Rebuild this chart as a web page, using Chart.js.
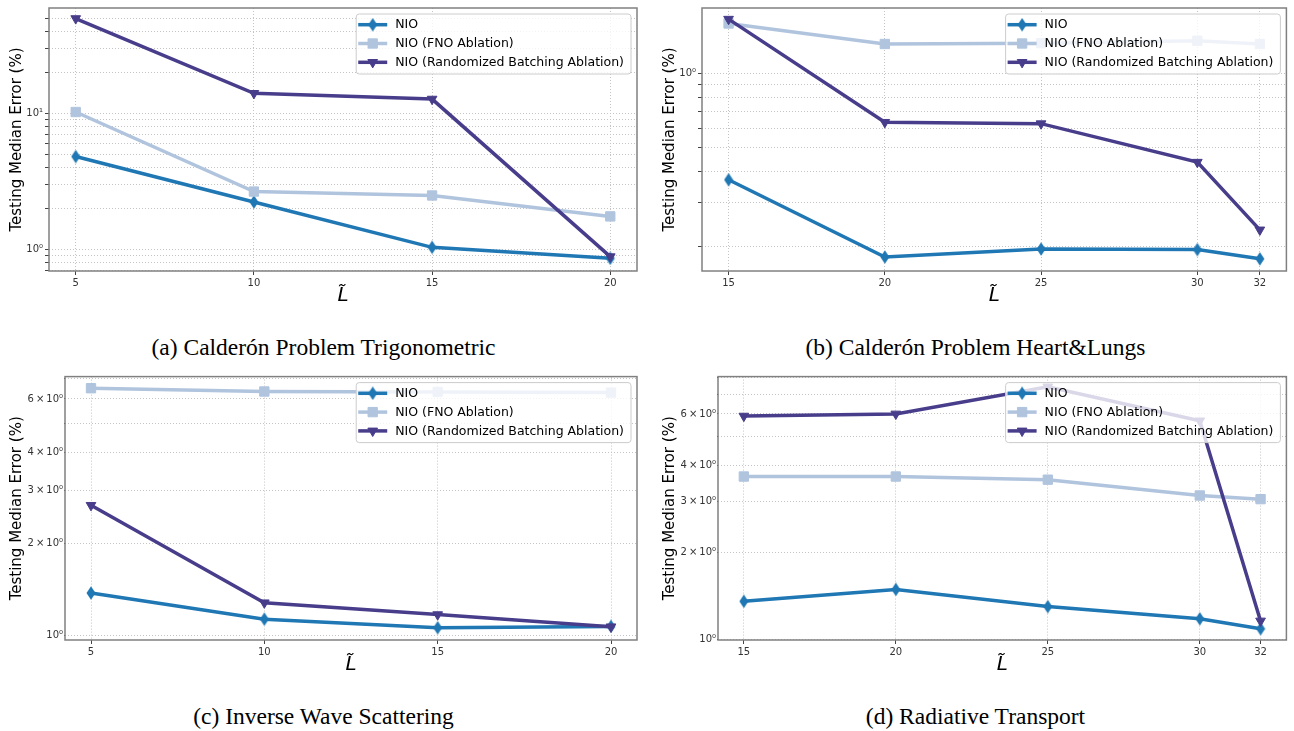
<!DOCTYPE html>
<html>
<head>
<meta charset="utf-8">
<script src="https://cdn.jsdelivr.net/npm/chart.js@4.4.1/dist/chart.umd.min.js"></script>
<style>
  body { margin: 0; background: #fff; width: 1294px; height: 731px; position: relative; overflow: hidden; }
  canvas { position: absolute; }
  .cap { position: absolute; width: 647px; text-align: center; line-height: 26px;
         font-family: "Liberation Serif", "Times New Roman", serif; font-size: 23.5px; color: #000; }
</style>
</head>
<body>
<canvas id="chartA" width="647" height="310" style="left:0;top:0"></canvas>
<canvas id="chartB" width="647" height="310" style="left:647px;top:0"></canvas>
<canvas id="chartC" width="647" height="310" style="left:0;top:369px"></canvas>
<canvas id="chartD" width="647" height="310" style="left:647px;top:369px"></canvas>
<div class="cap" style="left:0;top:334px">(a) Calderón Problem Trigonometric</div>
<div class="cap" style="left:652px;top:334px">(b) Calderón Problem Heart&amp;Lungs</div>
<div class="cap" style="left:0;top:703px">(c) Inverse Wave Scattering</div>
<div class="cap" style="left:652px;top:703px">(d) Radiative Transport</div>

<script>
// series names and colours
const seriesNames = ["NIO", "NIO (FNO Ablation)", "NIO (Randomized Batching Ablation)"];
const seriesColors = ["#1f77b4", "#b0c4de", "#483d8b"];

// (a) Calderón Problem Trigonometric
const xA = [5, 10, 15, 20];
const nioA = [4.8, 2.22, 1.03, 0.855];
const fnoA = [10.2, 2.65, 2.48, 1.74];
const rbA = [49.7, 14.0, 12.7, 0.88];
const yTicksA = [0.7, 0.8, 0.9, 1, 2, 3, 4, 5, 6, 7, 8, 9, 10, 20, 30, 40, 50];
const yLabelsA = ["", "", "", "10⁰", "", "", "", "", "", "", "", "", "10¹", "", "", "", ""];

// (b) Calderón Problem Heart&Lungs
const xB = [15, 20, 25, 30, 32];
const nioB = [0.371, 0.181, 0.195, 0.194, 0.178];
const fnoB = [1.585, 1.31, 1.32, 1.35, 1.31];
const rbB = [1.65, 0.633, 0.625, 0.437, 0.233];
const yTicksB = [0.2, 0.3, 0.4, 0.5, 0.6, 0.7, 0.8, 0.9, 1];
const yLabelsB = ["", "", "", "", "", "", "", "", "10⁰"];

// (c) Inverse Wave Scattering
const xC = [5, 10, 15, 20];
const nioC = [1.378, 1.13, 1.059, 1.07];
const fnoC = [6.51, 6.35, 6.33, 6.3];
const rbC = [2.68, 1.28, 1.17, 1.067];
const yTicksC = [1, 2, 3, 4, 5, 6, 7];
const yLabelsC = ["10⁰", "2\u2009×\u200910⁰", "3\u2009×\u200910⁰", "4\u2009×\u200910⁰", "", "6\u2009×\u200910⁰", ""];

// (d) Radiative Transport
const xD = [15, 20, 25, 30, 32];
const nioD = [1.355, 1.489, 1.30, 1.18, 1.09];
const fnoD = [3.65, 3.65, 3.56, 3.14, 3.05];
const rbD = [5.9, 6.0, 7.44, 5.68, 1.16];
const yTicksD = [1, 2, 3, 4, 5, 6, 7, 8];
const yLabelsD = ["10⁰", "2\u2009×\u200910⁰", "3\u2009×\u200910⁰", "4\u2009×\u200910⁰", "", "6\u2009×\u200910⁰", "", ""];

Chart.defaults.font.family = "'DejaVu Sans', sans-serif";
Chart.defaults.color = "#333";

// thin diamond marker like matplotlib 'd'
function thinDiamond(color) {
    const c = document.createElement("canvas");
    c.width = 10; c.height = 14;
    const g = c.getContext("2d");
    g.fillStyle = color;
    g.beginPath();
    g.moveTo(5, 0.3); g.lineTo(9.5, 7); g.lineTo(5, 13.7); g.lineTo(0.5, 7);
    g.closePath();
    g.fill();
    return c;
}

const markerStyles = [
    { pointStyle: thinDiamond(seriesColors[0]), radius: 6, rotation: 0, borderWidth: 0 },
    { pointStyle: "rect", radius: 6.6, rotation: 0, borderWidth: 1 },
    { pointStyle: "triangle", radius: 5.6, rotation: 180, borderWidth: 1 }
];

const framePlugin = {
    id: "frameLegend",
    afterDraw(chart) {
        const ctx = chart.ctx;
        const a = chart.chartArea;
        ctx.save();
        ctx.strokeStyle = "#808080";
        ctx.lineWidth = 1.5;
        ctx.strokeRect(a.left, a.top, a.right - a.left, a.bottom - a.top);

        // legend inside upper right
        ctx.font = "12.5px 'DejaVu Sans'";
        let tw = 0;
        seriesNames.forEach(n => { tw = Math.max(tw, ctx.measureText(n).width); });
        const w = 39 + tw + 7, h = 60;
        const x0 = a.right - 6 - w, y0 = a.top + 6;
        ctx.beginPath();
        if (ctx.roundRect) ctx.roundRect(x0, y0, w, h, 3); else ctx.rect(x0, y0, w, h);
        ctx.fillStyle = "rgba(255,255,255,0.8)";
        ctx.fill();
        ctx.strokeStyle = "#cccccc";
        ctx.lineWidth = 1;
        ctx.stroke();

        seriesNames.forEach((n, i) => {
            const cy = y0 + 10.7 + i * 18.8;
            ctx.strokeStyle = seriesColors[i];
            ctx.lineWidth = 3.5;
            ctx.beginPath();
            ctx.moveTo(x0 + 2, cy);
            ctx.lineTo(x0 + 31, cy);
            ctx.stroke();
            ctx.fillStyle = seriesColors[i];
            ctx.lineWidth = markerStyles[i].borderWidth;
            Chart.helpers.drawPoint(ctx, markerStyles[i], x0 + 16.5, cy);
            ctx.fillStyle = "#000";
            ctx.textBaseline = "middle";
            ctx.textAlign = "left";
            ctx.fillText(n, x0 + 39, cy + 0.5);
        });
        ctx.restore();
    }
};

function makePanel(id, p) {
    const series = [p.nio, p.fno, p.rb];
    const datasets = series.map((vals, i) => ({
        label: seriesNames[i],
        data: vals.map((v, j) => ({ x: p.x[j], y: v })),
        borderColor: seriesColors[i],
        backgroundColor: seriesColors[i],
        borderWidth: 3.5,
        pointStyle: markerStyles[i].pointStyle,
        pointRadius: markerStyles[i].radius,
        pointRotation: markerStyles[i].rotation,
        pointBorderWidth: markerStyles[i].borderWidth,
        tension: 0,
        order: 3 - i
    }));

    new Chart(document.getElementById(id), {
        type: "line",
        data: { datasets },
        options: {
            responsive: false,
            animation: false,
            events: [],
            layout: { padding: { left: 0, top: 6, right: p.padRight, bottom: 0 } },
            plugins: { legend: { display: false }, tooltip: { enabled: false } },
            scales: {
                x: {
                    type: "linear",
                    min: p.xMin, max: p.xMax,
                    afterBuildTicks: s => { s.ticks = p.x.map(v => ({ value: v })); },
                    afterFit: s => { s.height = 39; },
                    ticks: { font: { size: 10 }, color: "#333", padding: 2, maxRotation: 0, autoSkip: false,
                             callback: v => String(v) },
                    grid: { color: "#c4c4c4", lineWidth: 1, tickLength: 4, tickColor: "#444" },
                    border: { display: false, dash: [1, 2] },
                    title: { display: true, text: "L\u0303", font: { size: 20, style: "italic" },
                             color: "#000", padding: { top: 0, bottom: 2 } }
                },
                y: {
                    type: "logarithmic",
                    min: p.yMin, max: p.yMax,
                    afterBuildTicks: s => { s.ticks = p.yTicks.map(v => ({ value: v })); },
                    afterFit: s => { s.width = p.yWidth; },
                    ticks: { font: { size: 10 }, color: "#333", padding: p.yTickPad, autoSkip: false,
                             callback: (v, i) => p.yLabels[i] },
                    grid: { color: "#c4c4c4", lineWidth: 1, tickLength: p.yTickLen, tickColor: "#444" },
                    border: { display: false, dash: [1, 2] },
                    title: { display: true, text: "Testing Median Error (%)", font: { size: 15 },
                             color: "#000", padding: { top: p.yTitlePad, bottom: 0 } }
                }
            }
        },
        plugins: [framePlugin]
    });
}

makePanel("chartA", { x: xA, nio: nioA, fno: fnoA, rb: rbA, xMin: 4.25, xMax: 20.75,
    yMin: 0.69, yMax: 59.4, yTicks: yTicksA, yLabels: yLabelsA, yWidth: 49, padRight: 10, yTitlePad: 8,
    yTickLen: 4, yTickPad: 2 });
makePanel("chartB", { x: xB, nio: nioB, fno: fnoB, rb: rbB, xMin: 14.15, xMax: 32.85,
    yMin: 0.159, yMax: 1.83, yTicks: yTicksB, yLabels: yLabelsB, yWidth: 55, padRight: 6, yTitlePad: 14,
    yTickLen: 4, yTickPad: 2 });
makePanel("chartC", { x: xC, nio: nioC, fno: fnoC, rb: rbC, xMin: 4.25, xMax: 20.75,
    yMin: 0.965, yMax: 7.11, yTicks: yTicksC, yLabels: yLabelsC, yWidth: 65, padRight: 10, yTitlePad: 8,
    yTickLen: 1, yTickPad: 1 });
makePanel("chartD", { x: xD, nio: nioD, fno: fnoD, rb: rbD, xMin: 14.15, xMax: 32.85,
    yMin: 0.997, yMax: 8.07, yTicks: yTicksD, yLabels: yLabelsD, yWidth: 71, padRight: 7, yTitlePad: 14,
    yTickLen: 1, yTickPad: 1 });
</script>
</body>
</html>
